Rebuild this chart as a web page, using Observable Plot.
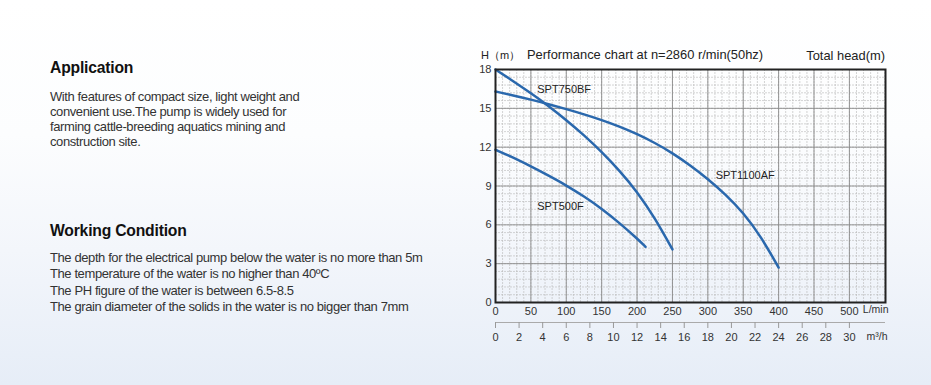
<!DOCTYPE html>
<html>
<head>
<meta charset="utf-8">
<script src="https://cdn.jsdelivr.net/npm/d3@7"></script>
<script src="https://cdn.jsdelivr.net/npm/@observablehq/plot@0.6"></script>
<style>
  html, body { margin: 0; padding: 0; }
  body {
    width: 931px; height: 385px; overflow: hidden; position: relative;
    background: linear-gradient(to bottom, #ffffff 0%, #fcfdfe 35%, #f3f6fb 65%, #e6edf7 100%);
    font-family: "Liberation Sans", Arial, sans-serif;
  }
  .h { position: absolute; left: 50px; font-weight: bold; font-size: 15.7px; color: #111; letter-spacing: -0.2px; }
  .p { position: absolute; left: 50px; font-size: 13px; color: #333; letter-spacing: -0.4px; }
  .p div { white-space: nowrap; }
  .t { position: absolute; font-size: 12.9px; color: #222; white-space: nowrap; }
  #chart { position: absolute; left: 460px; top: 40px; }
</style>
</head>
<body>
<div class="h" style="top:59px">Application</div>
<div class="p" style="top:89px; line-height:15px">
  <div>With features of compact size, light weight and</div>
  <div>convenient use.The pump is widely used for</div>
  <div>farming cattle-breeding aquatics mining and</div>
  <div>construction site.</div>
</div>
<div class="h" style="top:222px">Working Condition</div>
<div class="p" style="top:250px; line-height:16.3px">
  <div>The depth for the electrical pump below the water is no more than 5m</div>
  <div>The temperature of the water is no higher than 40ºC</div>
  <div>The PH figure of the water is between 6.5-8.5</div>
  <div>The grain diameter of the solids in the water is no bigger than 7mm</div>
</div>
<div class="t" style="left:481px; top:48px; font-size:11px">H（m）</div>
<div class="t" style="left:527px; top:47px">Performance chart at n=2860 r/min(50hz)</div>
<div class="t" style="right:46px; top:48px">Total head(m)</div>
<div id="chart"></div>
<script>
// Data (flow in L/min, head in m)
const seriesNames = ["SPT750BF", "SPT1100AF", "SPT500F"];
const q750  = [0, 25, 50, 75, 100, 125, 150, 175, 200, 225, 250];
const h750  = [18, 17.1, 16.17, 15.18, 14.1, 12.93, 11.64, 10.2, 8.57, 6.55, 4.1];
const q1100 = [0, 25, 50, 75, 100, 125, 150, 175, 200, 225, 250, 275, 300, 325, 350, 375, 400];
const h1100 = [16.3, 16.0, 15.68, 15.32, 14.94, 14.54, 14.1, 13.6, 13.02, 12.34, 11.55, 10.6, 9.55, 8.35, 6.95, 5.1, 2.7];
const q500  = [0, 25, 50, 75, 100, 125, 150, 175, 200, 212];
const h500  = [11.8, 11.2, 10.52, 9.8, 9.05, 8.2, 7.25, 6.15, 4.95, 4.3];
const labelQ = [59, 311, 59];
const labelH = [16.45, 9.8, 7.4];
const flowTicks = [0, 50, 100, 150, 200, 250, 300, 350, 400, 450, 500];
const headTicks = [0, 3, 6, 9, 12, 15, 18];
const m3hTicks = [0, 2, 4, 6, 8, 10, 12, 14, 16, 18, 20, 22, 24, 26, 28, 30];

const curves = [[q750, h750], [q1100, h1100], [q500, h500]];
const rows = curves.flatMap(([qs, hs], i) => qs.map((q, j) => ({series: seriesNames[i], q, h: hs[j]})));
const labels = seriesNames.map((s, i) => ({s, q: labelQ[i], h: labelH[i]}));

const xMax = 551;
const minorX = d3.range(0, xMax, 10);
const minorY = d3.range(0, 18.001, 0.6);

const chart = Plot.plot({
  width: 440, height: 310,
  marginLeft: 35, marginRight: 15, marginTop: 29, marginBottom: 48,
  x: {domain: [0, xMax]},
  y: {domain: [0, 18]},
  style: {background: "transparent", fontFamily: "Liberation Sans, Arial, sans-serif", fontSize: "11px", color: "#333", overflow: "visible"},
  marks: [
    Plot.gridX(minorX, {stroke: "#b8b8b8", strokeOpacity: 0.6, strokeDasharray: "2,1"}),
    Plot.gridY(minorY, {stroke: "#b8b8b8", strokeOpacity: 0.6, strokeDasharray: "2,1"}),
    Plot.gridX(flowTicks, {stroke: "#8a8a8a", strokeOpacity: 0.9}),
    Plot.gridY(headTicks, {stroke: "#8a8a8a", strokeOpacity: 0.9}),
    Plot.axisY(headTicks, {tickSize: 0, tickPadding: 4, fill: "#333", label: null}),
    Plot.axisX(flowTicks, {tickSize: 0, tickPadding: 5, fill: "#333", label: null}),
    Plot.text(["L/min"], {frameAnchor: "bottom-right", textAnchor: "end", dx: 3, dy: 10, fill: "#333", fontSize: 10.5}),
    Plot.ruleY([0], {dy: 20, stroke: "#aaa"}),
    Plot.axisX(m3hTicks.map(v => v * 1000 / 60), {anchor: "bottom", tickSize: 6, tickPadding: 5, dy: 20, stroke: "#999", fill: "#333", tickFormat: d => String(Math.round(d * 60 / 1000)), label: null}),
    Plot.text(["m³/h"], {frameAnchor: "bottom-right", textAnchor: "end", dx: 2, dy: 37, fill: "#333", fontSize: 10.5}),
    Plot.line(rows, {x: "q", y: "h", z: "series", curve: "basis", stroke: "#2a68ad", strokeWidth: 2.5}),
    Plot.text(labels, {x: "q", y: "h", text: "s", textAnchor: "start", fill: "#222", fontSize: 11}),
    Plot.frame({stroke: "#222", strokeWidth: 2})
  ]
});
document.getElementById("chart").appendChild(chart);
</script>
</body>
</html>
